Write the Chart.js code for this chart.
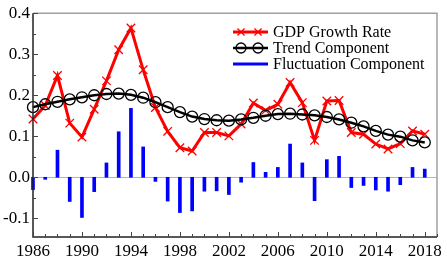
<!DOCTYPE html>
<html lang="en">
<head>
  <meta charset="UTF-8" />
  <title>GDP Growth Rate decomposition</title>
  <script src="https://cdn.jsdelivr.net/npm/chart.js"></script>
  <style>
    body {
      margin: 0;
      padding: 0;
      background: #fff;
    }
    canvas {
      display: block;
    }
    #fontWarm {
      position: absolute;
      left: -2000px;
      top: 0;
      font-family: 'Liberation Serif';
      font-size: 16px;
    }
  </style>
</head>
<body>
  <span id="fontWarm">GDP Growth Rate 0.1234567890 -</span>
  <canvas id="gdpChart" width="447" height="264"></canvas>

  <script>
    const years = [1986, 1987, 1988, 1989, 1990, 1991, 1992, 1993, 1994, 1995, 1996,
                   1997, 1998, 1999, 2000, 2001, 2002, 2003, 2004, 2005, 2006, 2007,
                   2008, 2009, 2010, 2011, 2012, 2013, 2014, 2015, 2016, 2017, 2018];

    const gdpGrowth = [0.142, 0.175, 0.248, 0.132, 0.098, 0.166, 0.235, 0.311, 0.364, 0.262, 0.170,
                       0.112, 0.072, 0.064, 0.109, 0.109, 0.101, 0.130, 0.181, 0.163, 0.178, 0.231,
                       0.182, 0.090, 0.186, 0.187, 0.109, 0.105, 0.081, 0.069, 0.082, 0.113, 0.105];

    const trend = [0.171, 0.178, 0.184, 0.190, 0.195, 0.200, 0.203, 0.204, 0.201, 0.194, 0.183,
                   0.171, 0.159, 0.148, 0.142, 0.139, 0.138, 0.141, 0.145, 0.150, 0.154, 0.155,
                   0.153, 0.151, 0.147, 0.141, 0.133, 0.124, 0.113, 0.104, 0.099, 0.090, 0.085];

    const fluctuation = [-0.030, -0.005, 0.066, -0.059, -0.098, -0.035, 0.035, 0.111, 0.168, 0.074, -0.010,
                         -0.058, -0.086, -0.082, -0.034, -0.033, -0.042, -0.012, 0.036, 0.012, 0.024, 0.081,
                         0.035, -0.057, 0.043, 0.051, -0.025, -0.020, -0.031, -0.034, -0.018, 0.024, 0.020];

    const xTickLabels = [1986, 1990, 1994, 1998, 2002, 2006, 2010, 2014, 2018];
    const yTickLabels = [-0.1, 0.0, 0.1, 0.2, 0.3, 0.4];

    const serif = '"Liberation Serif"';

    const toPoints = arr => arr.map((v, i) => ({ x: years[i], y: v }));

    // frame, inward tick marks, zero line and the in-plot legend
    const decorPlugin = {
      id: 'decor',
      beforeDatasetsDraw(chart) {
        const { ctx, chartArea: a, scales: { y } } = chart;
        ctx.save();
        const y0 = Math.round(y.getPixelForValue(0)) + 0.5;
        ctx.strokeStyle = '#b4b4b4';
        ctx.lineWidth = 1;
        ctx.beginPath();
        ctx.moveTo(a.left, y0);
        ctx.lineTo(a.right, y0);
        ctx.stroke();
        ctx.restore();
      },
      afterDatasetsDraw(chart) {
        const { ctx, chartArea: a, scales: { x, y } } = chart;
        ctx.save();

        // light top / right border
        ctx.strokeStyle = '#a0a0a0';
        ctx.lineWidth = 1.5;
        ctx.beginPath();
        ctx.moveTo(a.left, a.top);
        ctx.lineTo(a.right, a.top);
        ctx.lineTo(a.right, a.bottom);
        ctx.stroke();

        // dark left / bottom axes
        ctx.strokeStyle = '#222';
        ctx.beginPath();
        ctx.moveTo(a.left, a.top);
        ctx.lineTo(a.left, a.bottom);
        ctx.lineTo(a.right, a.bottom);
        ctx.stroke();

        ctx.lineWidth = 1;
        ctx.strokeStyle = '#444';
        ctx.beginPath();
        for (let yr = Math.ceil(x.min); yr <= x.max; yr++) {
          const px = Math.round(x.getPixelForValue(yr)) + 0.5;
          const len = xTickLabels.includes(yr) ? 5 : 3;
          ctx.moveTo(px, a.bottom);
          ctx.lineTo(px, a.bottom - len);
        }
        for (let k = -2; k <= 8; k++) {
          const v = k * 0.05;
          if (v < y.min || v > y.max) continue;
          const py = Math.round(y.getPixelForValue(v)) + 0.5;
          const len = k % 2 === 0 ? 5 : 3;
          ctx.moveTo(a.left, py);
          ctx.lineTo(a.left + len, py);
        }
        ctx.stroke();

        // legend
        const lx0 = 233, lx1 = 268, tx = 273;
        const rows = [32, 48, 64];
        ctx.font = '16px ' + serif;
        ctx.textBaseline = 'middle';
        chart.data.datasets.forEach((ds, i) => {
          const ly = rows[i];
          ctx.strokeStyle = ds.legendColor;
          ctx.lineWidth = ds.type === 'bar' ? 3 : ds.borderWidth;
          ctx.beginPath();
          ctx.moveTo(lx0, ly);
          ctx.lineTo(lx1, ly);
          ctx.stroke();
          if (ds.type === 'line') {
            ctx.fillStyle = 'rgba(0,0,0,0)';
            ctx.lineWidth = ds.pointBorderWidth;
            [241, 258].forEach(mx => {
              Chart.helpers.drawPoint(ctx, {
                pointStyle: ds.pointStyle,
                radius: 5,
                borderWidth: ds.pointBorderWidth
              }, mx, ly);
            });
          }
          ctx.fillStyle = '#000';
          ctx.fillText(ds.label, tx, ly + 1);
        });

        ctx.restore();
      }
    };

    function drawChart() {
      const ctx = document.getElementById('gdpChart').getContext('2d');

      new Chart(ctx, {
        type: 'bar',
        data: {
          datasets: [
            {
              type: 'line',
              label: 'GDP Growth Rate',
              data: toPoints(gdpGrowth),
              borderColor: '#ff0000',
              legendColor: '#ff0000',
              borderWidth: 3,
              pointStyle: 'crossRot',
              pointRadius: 6,
              pointBorderWidth: 1.3,
              pointBorderColor: '#ff0000',
              pointBackgroundColor: 'transparent',
              tension: 0,
              clip: false,
              order: 2
            },
            {
              type: 'line',
              label: 'Trend Component',
              data: toPoints(trend),
              borderColor: '#000000',
              legendColor: '#000000',
              borderWidth: 2.5,
              pointStyle: 'circle',
              pointRadius: 5.5,
              pointBorderWidth: 1.3,
              pointBorderColor: '#000000',
              pointBackgroundColor: 'transparent',
              tension: 0,
              clip: false,
              order: 1
            },
            {
              type: 'bar',
              label: 'Fluctuation Component',
              data: toPoints(fluctuation),
              backgroundColor: '#0000ff',
              legendColor: '#0000ff',
              borderWidth: 0,
              barThickness: 3,
              clip: false,
              order: 3
            }
          ]
        },
        options: {
          responsive: false,
          animation: false,
          layout: {
            padding: { top: 10, right: 10, left: 0, bottom: 0 }
          },
          plugins: {
            legend: { display: false },
            tooltip: { enabled: false }
          },
          scales: {
            x: {
              type: 'linear',
              min: 1986,
              max: 2019,
              offset: false,
              grid: { display: false, drawTicks: false },
              border: { display: false },
              afterBuildTicks: scale => {
                scale.ticks = xTickLabels.map(v => ({ value: v }));
              },
              afterFit: scale => { scale.height = 27; },
              ticks: {
                autoSkip: false,
                maxRotation: 0,
                padding: 4,
                color: '#000',
                font: { family: serif, size: 17 },
                callback: v => String(v)
              }
            },
            y: {
              min: -0.1456,
              max: 0.4,
              grid: { display: false, drawTicks: false },
              border: { display: false },
              afterBuildTicks: scale => {
                scale.ticks = yTickLabels.map(v => ({ value: v }));
              },
              afterFit: scale => { scale.width = 33; },
              ticks: {
                padding: 3,
                color: '#000',
                font: { family: serif, size: 17 },
                callback: v => v.toFixed(1)
              }
            }
          }
        },
        plugins: [decorPlugin]
      });
    }

    void document.getElementById('fontWarm').offsetWidth;
    document.fonts.ready.then(drawChart);
  </script>
</body>
</html>
